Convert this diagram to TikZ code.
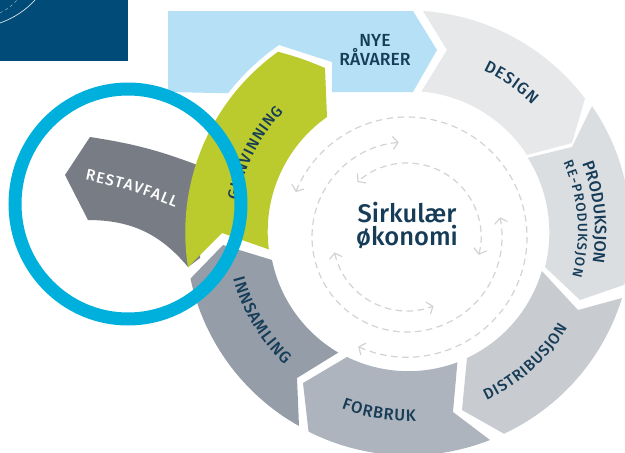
\documentclass[tikz,border=0pt]{standalone}
\usepackage{fontspec}
\setmainfont{Fira Sans}
\newfontfamily\medf{Fira Sans Medium}
\usetikzlibrary{decorations.text,arrows.meta}
\definecolor{navy}{HTML}{163C58}
\definecolor{boxblue}{HTML}{004B78}
\definecolor{nyec}{HTML}{B5E0F5}
\definecolor{designc}{HTML}{E7E8EA}
\definecolor{prodc}{HTML}{DBDEE1}
\definecolor{distc}{HTML}{C8CCD1}
\definecolor{forbc}{HTML}{AEB4BD}
\definecolor{innc}{HTML}{959EA8}
\definecolor{greenc}{HTML}{BBCB2D}
\definecolor{restc}{HTML}{787C85}
\definecolor{ringc}{HTML}{00B0DC}
\definecolor{dashc}{HTML}{D2D3D5}
\newcommand{\lab}{\fontsize{16.5}{16.5}\selectfont\medf}
\newcommand{\labm}{\fontsize{15.5}{15.5}\selectfont\medf}
\newcommand{\labs}{\fontsize{13.5}{13.5}\selectfont\medf}
\tikzset{
  seg/.style={fill=#1,draw=none},
  curved/.style={decorate,decoration={text along path,text color=navy,text align={fit to path},text={|\lab|#1}}},
  curvedm/.style={decorate,decoration={text along path,text color=navy,text align={fit to path},text={|\labm|#1}}},
  curveds/.style={decorate,decoration={text along path,text color=navy,text align={fit to path},text={|\labs|#1}}},
  curvedw/.style={decorate,decoration={text along path,text color=white,text align={fit to path},text={|\labm|#1}}},
  dashloop/.style={draw=dashc,line width=1.2pt,dash pattern=on 6.5pt off 4.5pt,
    {Straight Barb[length=5pt,width=13pt,line width=1.2pt]}-{Straight Barb[length=5pt,width=13pt,line width=1.2pt]}},
}
\begin{document}
\begin{tikzpicture}[x=1pt,y=-1pt]
\useasboundingbox (0,0) rectangle (625,453);
\fill[white] (0,0) rectangle (625,453);
% corner box
\fill[boxblue] (0,0) rectangle (128,61);
\draw[white!85!boxblue,line width=0.7pt] (0,23) .. controls (14,18) and (26,10) .. (35,0);
\draw[white!55!boxblue,line width=0.5pt,dashed] (0,13) .. controls (6,10) and (12,6) .. (17,0);
% segments
\path[seg=nyec] (168,11) -- (413,11) -- (437,50) -- (413,92) -- (332,92) -- (332,62) -- (279,45)
  arc[start angle=124.6,end angle=142.3,radius=228pt] -- (168,92) -- cycle;
\path[seg=designc] (423,11) arc[start angle=86.1,end angle=37.1,radius=222pt] -- (572,143) -- (527,155)
  arc[start angle=32.9,end angle=85.1,radius=140pt] -- (447,50) -- cycle;
\path[seg=prodc] (592,106) arc[start angle=34.4,end angle=-13.9,radius=222pt] -- (580,300) -- (545,267)
  arc[start angle=-14.3,end angle=32.2,radius=140pt] -- (572,147) -- cycle;
\path[seg=distc] (467,358) arc[start angle=-64.9,end angle=-16.5,radius=140pt] -- (578,310) -- (622,298)
  arc[start angle=-17.1,end angle=-64.9,radius=222pt] -- (462,410) -- cycle;
\path[seg=forbc] (347,357) arc[start angle=244,end angle=290.5,radius=140pt] -- (453,412) -- (490,440)
  arc[start angle=291.5,end angle=243.2,radius=222pt] -- (303,383) -- cycle;
\path[seg=innc] (272,260) arc[start angle=191.6,end angle=239.6,radius=140pt] -- (297,378) -- (299,426)
  arc[start angle=240.7,end angle=192,radius=222pt] -- (223,245) -- cycle;
\path[seg=restc] (90,137) to[bend left=6] (200,166) -- (200,258) -- (188,267) to[bend right=25] (88,220) -- (65,175) -- cycle;
\path[seg=greenc] (188,267) arc[start angle=189,end angle=125.6,radius=222pt] to[bend left=4] (325,68) -- (327,117)
  arc[start angle=125.2,end angle=187.4,radius=140pt] -- (222,233) -- cycle;
% dashed loops
\draw[dashloop] (407,237) ++(-14:74pt) arc[start angle=-14,end angle=132,radius=74pt];
\draw[dashloop] (407,237) ++(192:74pt) arc[start angle=192,end angle=291,radius=74pt];
\draw[dashloop] (407,237) ++(95:95pt) arc[start angle=95,end angle=372,radius=95pt];
\draw[dashloop] (407,237) ++(246:120pt) arc[start angle=246,end angle=518,radius=120pt];
% labels
\node[text=navy,font=\fontsize{17.5}{19}\selectfont\medf,align=center] (nye) at (375,50) {NYE\\RÅVARER};
\node[text=navy,font=\fontsize{25.5}{23}\selectfont\medf,align=center] (center) at (407,226) {Sirkulær\\økonomi};
\path[curved={DESIGN}] (408,232) ++(65:178pt) arc[start angle=65,end angle=45.7,radius=178pt];
\path[curved={PRODUKSJON}] (408,232) ++(21.5:187pt) arc[start angle=21.5,end angle=-9.5,radius=187pt];
\path[curveds={RE-PRODUKSJON}] (408,232) ++(24:170pt) arc[start angle=24,end angle=-15,radius=170pt];
\path[curvedm={DISTRIBUSJON}] (408,232) ++(-65:186pt) arc[start angle=-65,end angle=-31,radius=186pt];
\path[curved={FORBRUK}] (408,232) ++(-110.6:189pt) arc[start angle=-110.6,end angle=-87.6,radius=189pt];
\path[curved={INNSAMLING}] (408,232) ++(195:181pt) arc[start angle=195,end angle=227,radius=181pt];
\path[curvedm={GJENVINNING}] (408,232) ++(169.5:173pt) arc[start angle=169.5,end angle=136,radius=173pt];
\path[curvedw={RESTAVFALL}] (85,180) to[bend left=6] (175,208);
% ring
\draw[ringc,line width=13pt] (128,204) ellipse[x radius=113,y radius=115];
\end{tikzpicture}
\end{document}
